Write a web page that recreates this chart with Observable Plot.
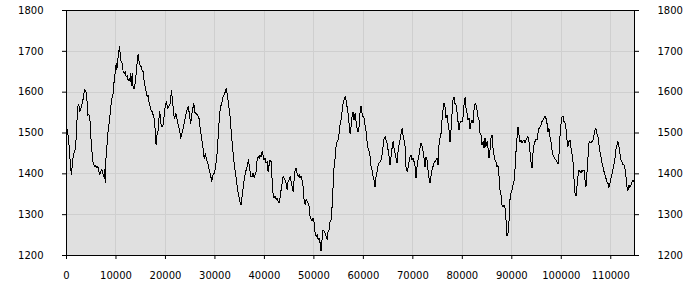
<!DOCTYPE html>
<html><head><meta charset="utf-8">
<script src="https://cdn.jsdelivr.net/npm/d3@7"></script>
<script src="https://cdn.jsdelivr.net/npm/@observablehq/plot@0.6"></script>
<style>html,body{margin:0;padding:0;background:#fff;}</style>
</head><body><div id="chart"></div>
<script>
const x1 = [0,208,478,680,882,1016,1219,1420,1690,1892,
2094,2229,2363,2565,2700,2902,3104,3306,3441,3643,
3912,4114,4249,4451,4653,4788,4922,5124,5326,5528,
5730,5932,6134,6336,6538,6740,6942,7144,7346,7548,
7683,7818,8020,8222,8424,8626,8828,9030,9232,9434,
9636,9838,10040,10175,10309,10511,10713,10848,11050,11252,
11454,11656,11858,12060,12262,12464,12666,12868,13003,13137,
13272,13474,13676,13878,14080,14282,14484,14686,14888,15090,
15293,15495,15697,15899,16101,16303,16505,16707,16909,17111,
17313,17515,17717,17851,17986,18121,18255,18457,18659,18861];
const y1 = [1511,1507,1475,1442,1410,1398,1430,1450,1454,1475,
1524,1556,1571,1566,1552,1560,1568,1580,1589,1607,
1603,1589,1544,1546,1541,1524,1491,1459,1430,1422,
1418,1420,1414,1418,1406,1398,1406,1411,1402,1393,
1410,1379,1450,1475,1507,1524,1548,1572,1589,1597,
1629,1646,1670,1654,1674,1694,1711,1694,1674,1670,
1650,1646,1650,1637,1641,1629,1633,1625,1646,1617,
1647,1609,1609,1621,1646,1674,1693,1674,1666,1662,
1654,1650,1625,1613,1601,1589,1593,1572,1564,1556,
1552,1544,1536,1524,1483,1471,1495,1499,1532,1552];

const x2 = [19064,19333,19535,20006,20209,20411,20680,20949,21219,21421,
21690,21892,22094,22363,22565,22835,23104,23306,23576,23912,
24182,24451,24653,24922,25124,25394,25730,25999,26202,26471,
26740,27010,27279,27548,27818,28087,28289,28558,28828,29097,
29366,29636,29905,30175,30444,30646,30915,31118,31387,31656,
31993,32262,32464,32734,33003,33272,33542,33878,34148,34417,
34687,35023,35292,35495,35764,36033,36235,36505,36774,36976,
37245];
const y2 = [1524,1515,1520,1572,1576,1560,1564,1572,1603,1581,
1544,1536,1548,1532,1520,1507,1487,1499,1511,1532,
1548,1560,1564,1536,1524,1552,1572,1548,1548,1544,
1540,1511,1491,1467,1438,1450,1434,1426,1410,1398,
1381,1398,1402,1422,1450,1491,1540,1564,1572,1589,
1597,1609,1597,1572,1548,1507,1467,1426,1402,1377,
1353,1333,1324,1345,1373,1394,1406,1418,1434,1418,
1394];

const x3 = [37515,37717,37919,38121,38323,38525,38727,38929,39131,39333,
39535,39737,39939,40141,40343,40545,40747,40949,41151,41353,
41555,41757,41959,42161,42363,42565,42767,42970,43172,43374,
43576,43778,43980,44182,44384,44586,44788,44990,45192,45394,
45596,45798,46000,46202,46404,46606,46808,47010,47212,47414,
47616,47818,48020,48222,48424,48626,48828,49030,49232,49434,
49636,49838,50040,50242,50444,50646,50848,51050,51252,51454,
51656,51858,52060,52262,52464,52666,52868,53070,53272,53475,
53677,53879,54081,54283,54485,54687,54889,55091,55293,55495,
55697,55899,56101,56303,56505,56707];
const y3 = [1394,1402,1390,1398,1406,1434,1442,1438,1446,1442,
1454,1446,1434,1438,1426,1430,1406,1422,1434,1430,
1385,1349,1341,1346,1337,1341,1333,1329,1341,1361,
1377,1394,1389,1385,1377,1361,1381,1385,1394,1381,
1369,1357,1385,1410,1414,1402,1394,1398,1390,1394,
1385,1369,1337,1324,1337,1333,1329,1320,1296,1288,
1284,1292,1280,1255,1247,1251,1239,1243,1231,1211,
1239,1263,1259,1255,1247,1239,1259,1263,1284,1288,
1320,1369,1418,1438,1467,1479,1483,1499,1520,1532,
1552,1572,1581,1589,1581,1564];

const x4 = [56909,57111,57313,57515,57717,57919,58121,58323,58525,58727,
58929,59131,59333,59535,59737,59939,60141,60343,60545,60747,
60949,61151,61353,61555,61757,61959,62162,62364,62566,62768,
62970,63172,63374,63576,63778,63980,64182,64384,64586,64788,
64990,65192,65394,65596,65798,66000,66202,66404,66606,66808,
67010,67212,67414,67616,67818,68020,68222,68424,68626,68828,
69030,69232,69434,69636,69838,70040,70242,70444,70646,70848,
71050,71252,71455,71657,71859,72061,72263,72465,72667,72869,
73071,73273,73475,73677,73879,74081,74283,74485,74687,74889,
75091,75293,75495,75697];
const y4 = [1548,1524,1499,1515,1540,1552,1532,1548,1528,1511,
1503,1515,1552,1566,1548,1540,1536,1520,1503,1479,
1463,1455,1442,1418,1410,1394,1385,1368,1394,1406,
1420,1426,1430,1434,1446,1467,1487,1491,1483,1475,
1459,1442,1422,1442,1463,1479,1463,1450,1438,1426,
1455,1471,1483,1499,1511,1495,1483,1467,1414,1406,
1414,1430,1442,1446,1434,1438,1430,1418,1389,1418,
1434,1446,1463,1475,1467,1455,1438,1416,1442,1434,
1410,1389,1377,1394,1410,1418,1426,1430,1434,1438,
1422,1471,1487,1499];

const x5 = [75899,76101,76303,76505,76707,76909,77111,77313,77515,77717,
77919,78121,78323,78525,78727,78929,79131,79333,79535,79737,
79939,80141,80343,80545,80747,80949,81151,81353,81555,81758,
81960,82162,82364,82566,82768,82970,83172,83374,83576,83778,
83980,84182,84384,84586,84788,84990,85192,85394,85596,85798,
86000,86202,86404,86606,86808,87010,87212,87414,87616,87818,
88020,88222,88424,88626,88828,89030,89232,89434,89636,89838,
90040,90242,90444,90646,90848,91050,91252,91454,91656,91858,
92060,92262,92464,92666,92868,93070,93272,93474,93676,93878,
94080,94282,94484,94686];
const y5 = [1532,1556,1574,1564,1536,1544,1524,1507,1479,1507,
1548,1581,1587,1572,1568,1552,1528,1507,1524,1528,
1528,1540,1568,1587,1560,1548,1532,1536,1511,1524,
1532,1524,1556,1572,1568,1556,1540,1532,1499,1495,
1471,1479,1463,1487,1467,1479,1463,1438,1459,1487,
1495,1463,1446,1434,1430,1418,1420,1394,1361,1349,
1324,1320,1324,1316,1288,1249,1255,1284,1337,1353,
1361,1373,1381,1410,1454,1487,1515,1495,1479,1483,
1476,1481,1483,1475,1483,1487,1491,1479,1454,1430,
1414,1450,1471,1479];

const x6 = [94889,95091,95293,95495,95697,95899,96101,96303,96505,96707,
96909,97111,97313,97515,97717,97919,98121,98323,98525,98727,
98929,99131,99333,99535,99737,99939,100141,100343,100545,100747,
100949,101151,101353,101555,101757,101959,102161,102363,102565,102767,
102969,103171,103373,103575,103777,103979,104181,104383,104585,104787,
104989,105191,105393,105595,105797,105999,106201,106403,106605,106807,
107009,107211,107413,107615,107817,108019,108221,108423,108625,108827,
109029,109231,109433,109635,109837,110039,110241,110443,110645,110847,
111049,111251,111453,111655,111857,112059,112261,112463,112665,112867,
113069,113271,113473,113675,113877,114079,114281,114483,114685,114800];
const y6 = [1485,1483,1499,1511,1515,1520,1528,1532,1536,1541,
1536,1524,1503,1511,1491,1479,1459,1446,1441,1436,
1434,1430,1424,1446,1491,1520,1540,1541,1528,1524,
1511,1483,1467,1479,1483,1463,1450,1430,1389,1353,
1345,1369,1393,1410,1406,1403,1410,1406,1410,1385,
1367,1402,1438,1475,1479,1475,1479,1483,1495,1507,
1511,1499,1491,1471,1454,1442,1426,1418,1406,1398,
1389,1381,1377,1367,1377,1389,1398,1410,1422,1438,
1459,1471,1479,1467,1450,1434,1430,1422,1422,1414,
1393,1369,1359,1373,1367,1373,1379,1385,1381,1383];

const xTicks = [0,10000,20000,30000,40000,50000,60000,70000,80000,90000,100000,110000];
const yTicks = [1200,1300,1400,1500,1600,1700,1800];

const xs = [].concat(x1,x2,x3,x4,x5,x6);
const ys = [].concat(y1,y2,y3,y4,y5,y6);
const data = xs.map((x,i) => ({x, y: ys[i]}));

const chart = Plot.plot({
  width: 700, height: 300,
  marginLeft: 66, marginRight: 66, marginTop: 10, marginBottom: 45,
  style: {fontFamily: "'DejaVu Sans', sans-serif", fontSize: "10px", color: "#000", background: "#fff", overflow: "visible"},
  x: {domain: [0, 114800]},
  y: {domain: [1200, 1800]},
  marks: [
    Plot.frame({fill: "#e0e0e0", stroke: null}),
    Plot.gridX(xTicks, {stroke: "#cfcfcf", strokeOpacity: 1, shapeRendering: "crispEdges"}),
    Plot.gridY(yTicks, {stroke: "#cfcfcf", strokeOpacity: 1, shapeRendering: "crispEdges"}),
    Plot.lineY(data, {x: "x", y: "y", stroke: "#000", strokeWidth: 1, shapeRendering: "crispEdges"}),
    Plot.frame({stroke: "#000", strokeWidth: 1, shapeRendering: "crispEdges"}),
    Plot.axisX(xTicks, {anchor: "bottom", tickSize: 4, tickPadding: 12, tickFormat: d => String(d), label: null, stroke: "#000"}),
    Plot.axisY(yTicks, {anchor: "left", tickSize: 4, tickPadding: 19, tickFormat: d => String(d), label: null, stroke: "#000"}),
    Plot.axisY(yTicks, {anchor: "right", tickSize: 4, tickPadding: 19, tickFormat: d => String(d), label: null, stroke: "#000"})
  ]
});
document.getElementById("chart").appendChild(chart);
</script>
</body></html>
